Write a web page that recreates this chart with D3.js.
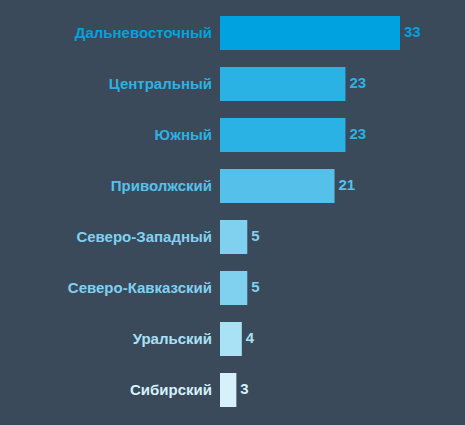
<!DOCTYPE html>
<html><head><meta charset="utf-8">
<script src="https://cdn.jsdelivr.net/npm/d3@7"></script>
<style>html,body{margin:0;padding:0;background:#3a4a5a;}svg{display:block;}</style>
</head><body>
<script>
const categories = ["Дальневосточный","Центральный","Южный","Приволжский","Северо-Западный","Северо-Кавказский","Уральский","Сибирский"];
const values = [33,23,23,21,5,5,4,3];
const colors = ["#00a2df","#2bb2e4","#2bb2e4","#55c1eb","#80d1f0","#80d1f0","#a9e1f5","#d6f1fb"];

const W=465,H=425;
const svg=d3.select("body").append("svg").attr("width",W).attr("height",H);
svg.append("rect").attr("width",W).attr("height",H).attr("fill","#3a4a5a");
const x=d3.scaleLinear().domain([0,33]).range([220,400]);
const y=d3.scaleBand().domain(categories).range([7.5,415.5]).paddingInner(1/3).paddingOuter(1/6);
const data=categories.map((c,i)=>({c,v:values[i],col:colors[i]}));
const g=svg.append("g");
g.selectAll("rect.bar").data(data).join("rect").attr("class","bar")
 .attr("x",x(0)).attr("y",d=>y(d.c)).attr("width",d=>x(d.v)-x(0)).attr("height",y.bandwidth()).attr("fill",d=>d.col);
g.selectAll("text.lab").data(data).join("text").attr("class","lab")
 .attr("x",x(0)-8).attr("y",d=>y(d.c)+y.bandwidth()/2).attr("dy","0.35em").attr("text-anchor","end")
 .attr("font-family","Liberation Sans, Arial, sans-serif").attr("font-weight","bold").attr("font-size",15)
 .attr("fill",d=>d.col).text(d=>d.c);
g.selectAll("text.val").data(data).join("text").attr("class","val")
 .attr("x",d=>x(d.v)+4).attr("y",d=>y(d.c)+y.bandwidth()/2).attr("dy","0.25em")
 .attr("font-family","Liberation Sans, Arial, sans-serif").attr("font-weight","bold").attr("font-size",15)
 .attr("fill",d=>d.col).text(d=>d.v);
</script>
</body></html>
